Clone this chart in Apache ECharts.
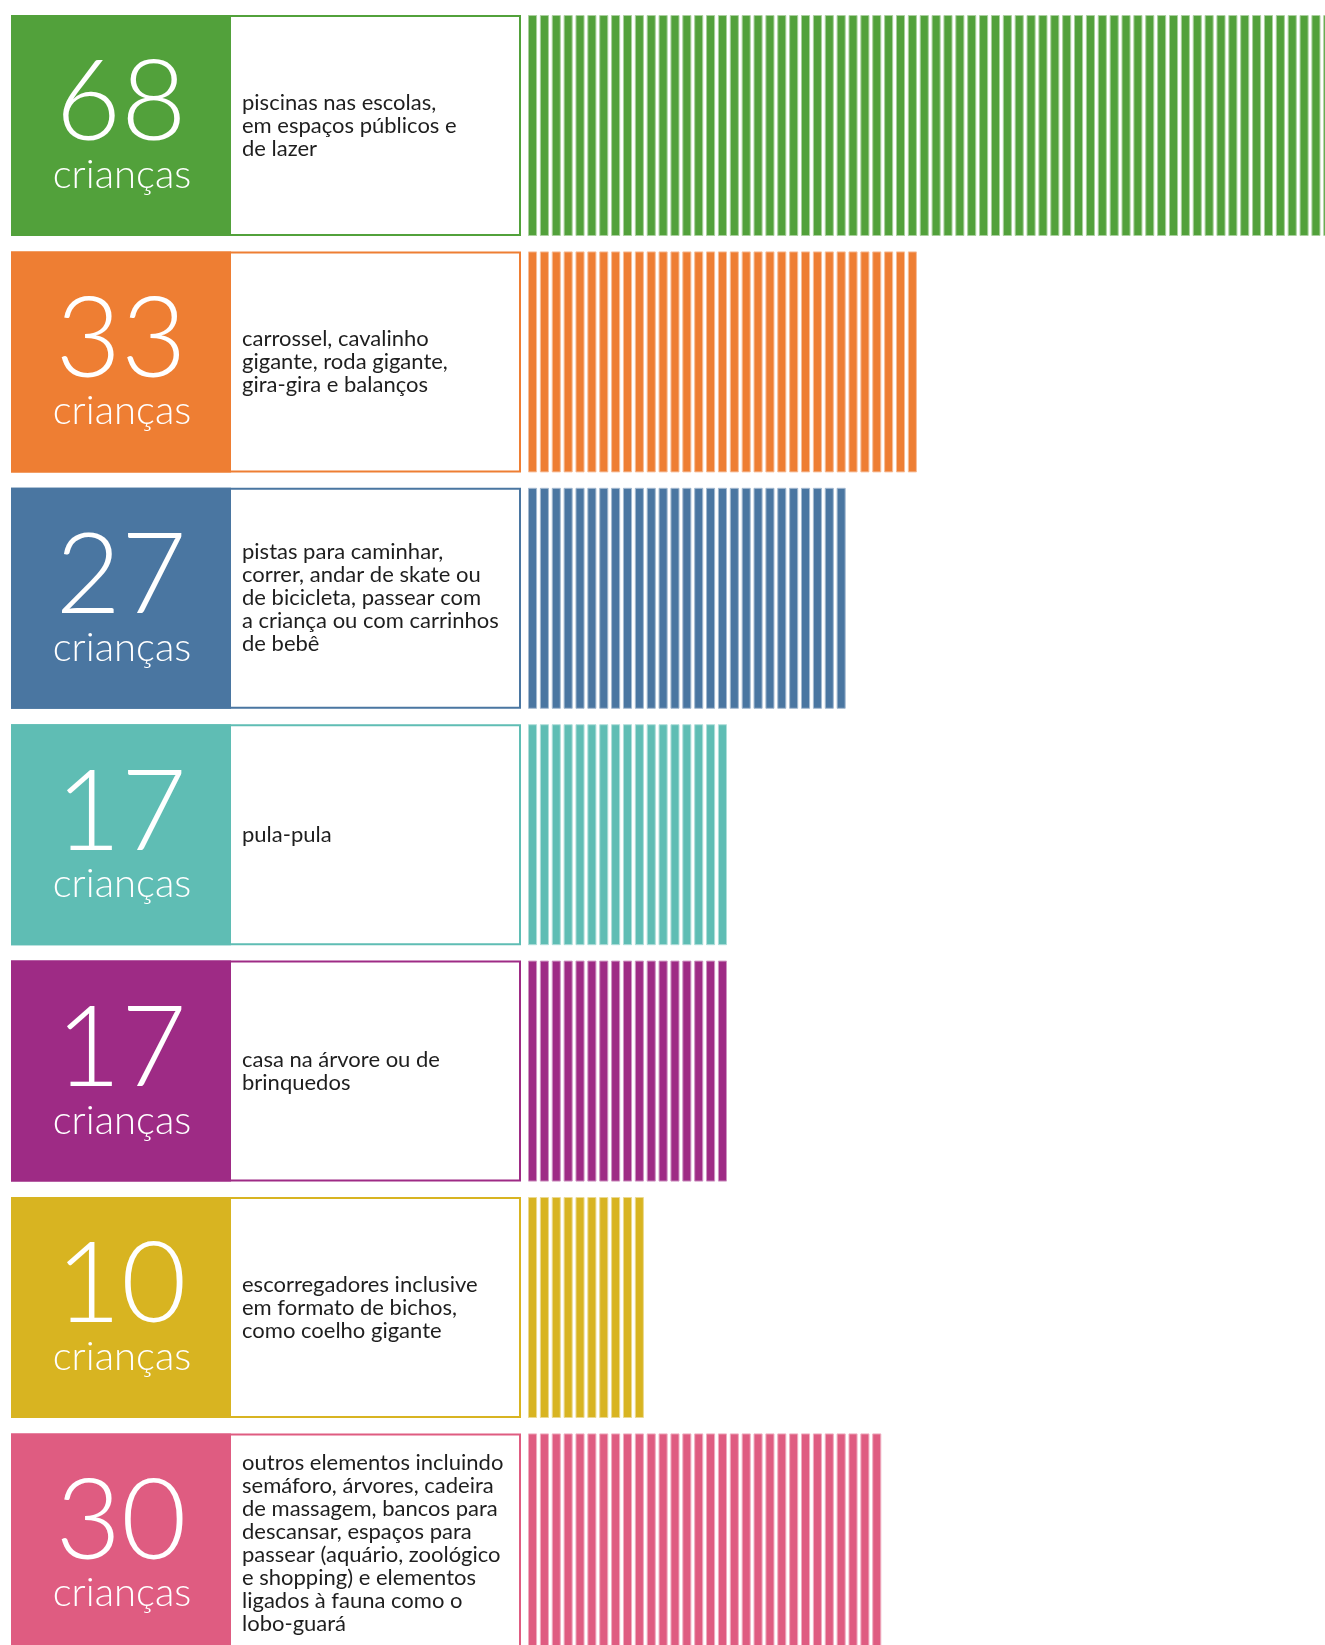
<!DOCTYPE html>
<html>
<head>
<meta charset="utf-8">
<script src="https://cdn.jsdelivr.net/npm/echarts@6/dist/echarts.min.js"></script>
<style>
  html, body { margin: 0; padding: 0; background: #ffffff; }
  #chart { width: 1325px; height: 1645px; }
</style>
</head>
<body>
<div id="chart"></div>
<script>
// ---- data ----
const categories = ['piscinas', 'carrossel', 'pistas', 'pula-pula', 'casa na árvore', 'escorregadores', 'outros'];
const values = [68, 33, 27, 17, 17, 10, 30];
const unitLabel = 'crianças';
const descriptions = [
  'piscinas nas escolas,\nem espaços públicos e\nde lazer',
  'carrossel, cavalinho\ngigante, roda gigante,\ngira-gira e balanços',
  'pistas para caminhar,\ncorrer, andar de skate ou\nde bicicleta, passear com\na criança ou com carrinhos\nde bebê',
  'pula-pula',
  'casa na árvore ou de\nbrinquedos',
  'escorregadores inclusive\nem formato de bichos,\ncomo coelho gigante',
  'outros elementos incluindo\nsemáforo, árvores, cadeira\nde massagem, bancos para\ndescansar, espaços para\npassear (aquário, zoológico\ne shopping) e elementos\nligados à fauna como o\nlobo-guará'
];
const palette = ['#52A13B', '#EE7E33', '#4A76A1', '#5FBDB4', '#9E2B85', '#D8B421', '#DF5C81'];
const paletteLight = ['#A9D09D', '#F6BE99', '#A4BAD0', '#AFDED9', '#CE95C2', '#EBD990', '#EFADC0'];

// ---- layout ----
const UNIT = 11.87;      // px per child
const PITCH = 236.4;     // row pitch
const ROW_H = 221;       // row height
const GRID_TOP = 15 - (PITCH - ROW_H) / 2;
const X_MAX = 67;        // visible axis span (68th stripe runs off the page, as in the original)
const Y_MAX = (1645 - GRID_TOP) / PITCH - 0.5;

const chart = echarts.init(document.getElementById('chart'), null, { renderer: 'canvas' });

const seriesData = values.map((v, i) => [v, i]);

const option = {
  backgroundColor: '#ffffff',
  animation: false,
  grid: { left: 528, top: GRID_TOP, width: X_MAX * UNIT, height: 1645 - GRID_TOP, outerBoundsMode: 'none' },
  xAxis: { type: 'value', min: 0, max: X_MAX, show: false },
  yAxis: { type: 'value', min: -0.5, max: Y_MAX, inverse: true, show: false },
  series: [
    {
      type: 'custom',
      name: 'stripes',
      clip: false,
      data: seriesData,
      encode: { x: 0, y: 1 },
      renderItem: function (params, api) {
        const v = api.value(0);
        const idx = api.value(1);
        const c = api.coord([0, idx]);
        const band = api.size([0, 1])[1];
        const h = band * ROW_H / PITCH;
        const children = [];
        for (let i = 0; i < v; i++) {
          const xa = api.coord([i, idx])[0];
          const xb = api.coord([i + 1, idx])[0];
          children.push({
            type: 'rect',
            shape: { x: xa + 0.5, y: c[1] - h / 2 + 0.5, width: (xb - xa) * 0.68, height: h - 1 },
            style: { fill: palette[idx], stroke: paletteLight[idx], lineWidth: 1 }
          });
        }
        return { type: 'group', children: children };
      }
    },
    {
      type: 'custom',
      name: 'cards',
      clip: false,
      data: seriesData,
      encode: { x: 0, y: 1 },
      renderItem: function (params, api) {
        const v = api.value(0);
        const idx = api.value(1);
        const c = api.coord([0, idx]);
        const band = api.size([0, 1])[1];
        const h = band * ROW_H / PITCH;
        const top = c[1] - h / 2;
        return {
          type: 'group',
          children: [
            { type: 'rect', shape: { x: 12, y: top + 1, width: 508, height: h - 2 },
              style: { fill: '#ffffff', stroke: palette[idx], lineWidth: 2 } },
            { type: 'rect', shape: { x: 11, y: top, width: 220, height: h },
              style: { fill: palette[idx] } },
            { type: 'text', x: 121, y: top + 89,
              style: { text: String(v), fill: '#ffffff', fontSize: 113, fontWeight: 300,
                       fontFamily: 'Lato', align: 'center', verticalAlign: 'middle' } },
            { type: 'text', x: 122, y: top + 160,
              style: { text: unitLabel, fill: '#ffffff', fontSize: 40, fontWeight: 300,
                       fontFamily: 'Lato', align: 'center', verticalAlign: 'middle' } },
            { type: 'text', x: 242, y: top + h / 2,
              style: { text: descriptions[idx], fill: '#1e1e1e', fontSize: 22, lineHeight: 23,
                       fontFamily: 'Lato', align: 'left', verticalAlign: 'middle' } }
          ]
        };
      }
    }
  ]
};

chart.setOption(option);
</script>
</body>
</html>
